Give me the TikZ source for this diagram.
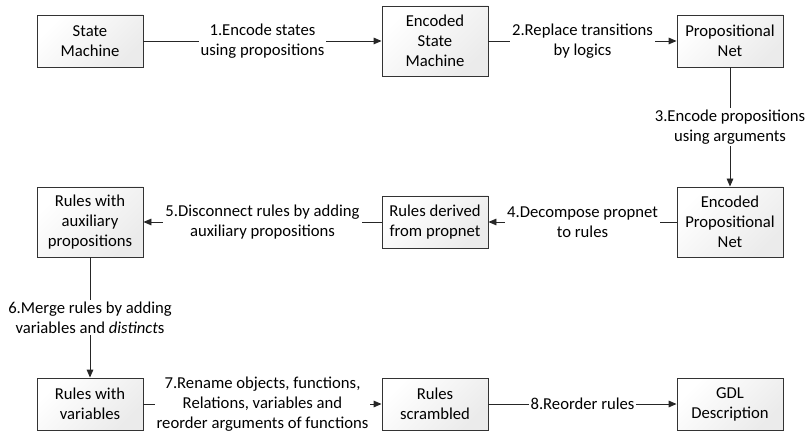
\documentclass[tikz,border=0pt]{standalone}
\usepackage{fontspec}
\setmainfont{Carlito}
\usetikzlibrary{arrows.meta}
\begin{document}
\begin{tikzpicture}[x=0.75pt,y=-0.75pt,
  font=\fontsize{12.5}{15}\selectfont,
  box/.style={draw=black!80,line width=0.7pt,top color=white,bottom color=black!8,shading angle=45,
    align=center,minimum width=79.5pt,minimum height=39pt,inner sep=2pt},
  tall/.style={minimum height=52.5pt},
  flow/.style={draw=black!85,line width=0.7pt,-{Triangle[length=6pt,width=5pt]}},
  lbl/.style={fill=white,align=center,inner sep=1.5pt}]
\useasboundingbox (0,0) rectangle (812,434);

\node[box] (sm) at (90,41) {State\\Machine};
\node[box,tall] (esm) at (435,41) {Encoded\\State\\Machine};
\node[box] (pn) at (730,41) {Propositional\\Net};
\node[box,tall] (epn) at (730,222) {Encoded\\Propositional\\Net};
\node[box] (rd) at (435,222) {Rules derived\\from propnet};
\node[box,tall] (ra) at (90,222) {Rules with\\auxiliary\\propositions};
\node[box] (rv) at (90,404) {Rules with\\variables};
\node[box] (rs) at (435,404) {Rules\\scrambled};
\node[box] (gdl) at (730,404) {GDL\\Description};

\draw[flow] (sm) -- node[lbl] {1.Encode states\\using propositions} (esm);
\draw[flow] (esm) -- node[lbl] {2.Replace transitions\\by logics} (pn);
\draw[flow] (pn) -- node[lbl] {3.Encode propositions\\using arguments} (epn);
\draw[flow] (epn) -- node[lbl] {4.Decompose propnet\\to rules} (rd);
\draw[flow] (rd) -- node[lbl] {5.Disconnect rules by adding\\auxiliary propositions} (ra);
\draw[flow] (ra) -- node[lbl] {6.Merge rules by adding\\variables and \emph{distinct}s} (rv);
\draw[flow] (rv) -- node[lbl] {7.Rename objects, functions,\\Relations, variables and\\reorder arguments of functions} (rs);
\draw[flow] (rs) -- node[lbl] {8.Reorder rules} (gdl);
\end{tikzpicture}
\end{document}
